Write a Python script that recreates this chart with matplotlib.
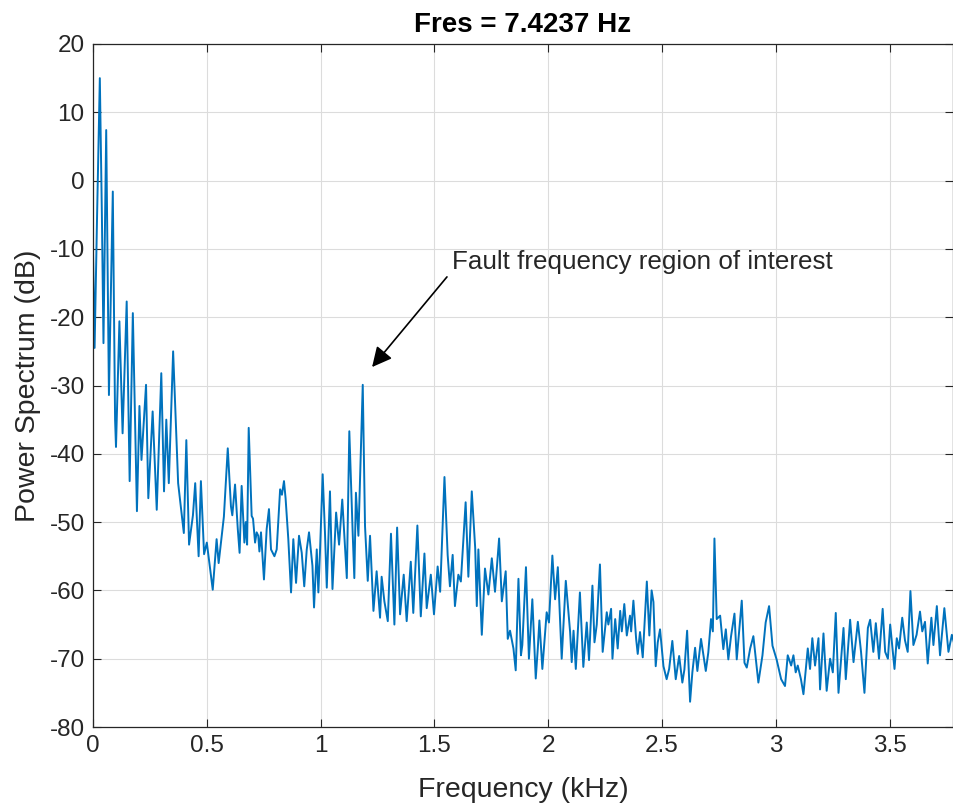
import numpy as np
import matplotlib
matplotlib.use("Agg")
import matplotlib.pyplot as plt
from matplotlib.ticker import FuncFormatter

plt.rcParams['font.family'] = ['Liberation Sans', 'DejaVu Sans']
plt.rcParams['axes.unicode_minus'] = False

# spectrum (kHz, dB)
freq_khz = [
    0.000, 0.007, 0.018, 0.030, 0.039, 0.046, 0.058, 0.070, 0.087, 0.097,
    0.101, 0.116, 0.130, 0.148, 0.161, 0.175, 0.193, 0.204, 0.213, 0.233,
    0.243, 0.262, 0.280, 0.300, 0.312, 0.322, 0.333, 0.352, 0.374, 0.399,
    0.410, 0.422, 0.439, 0.449, 0.464, 0.474, 0.488, 0.500, 0.526, 0.543,
    0.552, 0.575, 0.592, 0.606, 0.612, 0.624, 0.636, 0.644, 0.653, 0.665,
    0.671, 0.677, 0.684, 0.697, 0.703, 0.712, 0.719, 0.726, 0.731, 0.738,
    0.751, 0.763, 0.773, 0.782, 0.797, 0.807, 0.822, 0.830, 0.839, 0.846,
    0.858, 0.870, 0.880, 0.892, 0.905, 0.917, 0.928, 0.939, 0.949, 0.964,
    0.971, 0.983, 0.990, 0.997, 1.009, 1.019, 1.027, 1.041, 1.052, 1.068,
    1.081, 1.095, 1.115, 1.126, 1.141, 1.148, 1.155, 1.166, 1.185, 1.195,
    1.207, 1.217, 1.232, 1.246, 1.261, 1.268, 1.280, 1.295, 1.309, 1.324,
    1.336, 1.349, 1.365, 1.378, 1.396, 1.407, 1.425, 1.440, 1.456, 1.466,
    1.484, 1.498, 1.514, 1.525, 1.544, 1.558, 1.568, 1.580, 1.590, 1.605,
    1.616, 1.637, 1.649, 1.664, 1.679, 1.686, 1.693, 1.708, 1.722, 1.737,
    1.752, 1.766, 1.784, 1.796, 1.813, 1.822, 1.832, 1.847, 1.857, 1.869,
    1.880, 1.886, 1.902, 1.915, 1.930, 1.945, 1.954, 1.961, 1.974, 1.993,
    2.003, 2.018, 2.030, 2.042, 2.059, 2.077, 2.096, 2.103, 2.111, 2.121,
    2.139, 2.154, 2.169, 2.179, 2.194, 2.203, 2.213, 2.227, 2.239, 2.257,
    2.264, 2.276, 2.282, 2.294, 2.305, 2.316, 2.323, 2.334, 2.345, 2.359,
    2.364, 2.374, 2.386, 2.393, 2.403, 2.415, 2.433, 2.444, 2.454, 2.462,
    2.472, 2.481, 2.491, 2.506, 2.520, 2.531, 2.545, 2.560, 2.575, 2.589,
    2.598, 2.610, 2.623, 2.633, 2.645, 2.655, 2.671, 2.692, 2.703, 2.715,
    2.723, 2.730, 2.740, 2.755, 2.769, 2.780, 2.791, 2.803, 2.818, 2.828,
    2.850, 2.862, 2.872, 2.887, 2.901, 2.923, 2.941, 2.955, 2.970, 2.985,
    3.003, 3.023, 3.040, 3.052, 3.067, 3.077, 3.087, 3.096, 3.110, 3.121,
    3.140, 3.150, 3.160, 3.172, 3.187, 3.194, 3.209, 3.223, 3.238, 3.250,
    3.263, 3.275, 3.297, 3.307, 3.326, 3.341, 3.360, 3.374, 3.389, 3.404,
    3.414, 3.428, 3.439, 3.453, 3.469, 3.480, 3.492, 3.502, 3.521, 3.531,
    3.541, 3.555, 3.567, 3.579, 3.591, 3.604, 3.618, 3.633, 3.643, 3.655,
    3.667, 3.683, 3.692, 3.707, 3.721, 3.740, 3.758, 3.773, 3.785,
]
power_db = [
    -10.5, -24.5, -5.0, 15.0, -5.0, -23.8, 7.4, -31.4, -1.6, -35.0,
    -39.0, -20.6, -37.0, -17.7, -44.0, -19.4, -48.4, -33.0, -40.9, -29.9,
    -46.5, -33.8, -48.2, -28.2, -45.5, -35.0, -44.3, -25.0, -44.3, -51.6,
    -38.0, -53.3, -49.0, -44.3, -55.0, -44.0, -54.7, -53.0, -59.9, -52.5,
    -56.0, -49.2, -39.2, -47.7, -49.0, -44.5, -51.0, -54.5, -44.7, -53.0,
    -50.0, -53.3, -36.2, -49.1, -49.5, -53.0, -51.5, -52.0, -54.3, -51.5,
    -58.4, -51.0, -48.1, -54.0, -55.0, -54.0, -45.2, -46.0, -44.0, -46.5,
    -52.5, -60.3, -52.5, -58.9, -52.0, -54.5, -59.4, -54.0, -51.5, -56.4,
    -62.5, -54.0, -60.3, -54.5, -43.0, -51.5, -59.6, -45.5, -59.8, -48.6,
    -53.3, -46.7, -58.2, -36.7, -51.8, -58.2, -45.7, -52.0, -29.9, -50.6,
    -58.6, -52.0, -63.0, -57.2, -64.0, -58.0, -61.6, -64.5, -51.7, -65.0,
    -50.8, -63.5, -57.7, -64.5, -55.8, -63.3, -50.5, -63.8, -54.6, -62.6,
    -57.7, -63.5, -56.5, -60.2, -43.4, -54.8, -59.4, -54.8, -62.3, -57.7,
    -58.7, -47.1, -58.0, -45.5, -53.8, -62.3, -54.0, -66.5, -56.8, -60.6,
    -55.3, -60.2, -52.4, -61.6, -57.2, -67.1, -65.9, -68.5, -71.7, -58.3,
    -69.5, -68.0, -56.6, -70.0, -61.3, -72.9, -68.5, -64.4, -71.5, -63.2,
    -64.7, -54.9, -61.3, -56.6, -70.0, -58.6, -66.1, -70.5, -65.9, -71.5,
    -60.3, -71.2, -64.7, -70.2, -59.3, -67.6, -65.0, -56.2, -69.0, -63.2,
    -65.0, -62.7, -70.0, -64.2, -68.5, -63.0, -66.0, -62.0, -66.6, -63.7,
    -66.0, -61.5, -67.1, -69.3, -66.1, -69.8, -58.7, -66.6, -60.0, -61.7,
    -71.1, -67.6, -65.7, -71.1, -73.0, -71.5, -67.4, -73.0, -69.6, -73.5,
    -71.6, -65.9, -76.3, -72.0, -68.4, -71.8, -67.1, -71.8, -69.1, -64.2,
    -66.0, -52.4, -64.2, -63.7, -68.6, -65.7, -70.1, -66.7, -63.4, -70.1,
    -61.5, -70.6, -71.3, -68.5, -66.7, -73.5, -69.5, -64.7, -62.3, -68.1,
    -70.1, -73.0, -74.0, -69.5, -71.0, -69.5, -72.0, -71.0, -73.0, -75.2,
    -68.5, -71.5, -67.0, -71.0, -67.0, -74.5, -66.3, -74.7, -70.0, -72.0,
    -63.3, -75.0, -65.5, -73.0, -64.3, -70.5, -64.6, -69.0, -75.0, -65.5,
    -64.3, -69.0, -64.8, -70.0, -62.7, -69.0, -70.0, -65.0, -71.5, -67.0,
    -68.5, -64.0, -67.3, -69.0, -60.1, -68.0, -66.5, -63.1, -66.0, -64.6,
    -70.7, -64.0, -68.0, -62.3, -69.5, -62.6, -69.0, -66.5, -68.0,
]

x_ticks = [0, 0.5, 1, 1.5, 2, 2.5, 3, 3.5]
y_ticks = [-80, -70, -60, -50, -40, -30, -20, -10, 0, 10, 20]
title_text = 'Fres = 7.4237 Hz'
note_text = 'Fault frequency region of interest'

txt = '#262626'
fig = plt.figure(figsize=(9.54, 8.07), dpi=100)
ax = fig.add_axes([93/954, 80/807, 860/954, 683/807])

ax.plot(freq_khz, power_db, color='#0072BD', lw=1.4)

ax.set_xlim(0, 3.778)
ax.set_ylim(-80, 20)
ax.set_xticks(x_ticks)
ax.set_yticks(y_ticks)
ax.xaxis.set_major_formatter(FuncFormatter(lambda v, p: f'{v:g}'))
ax.grid(True, color='#dcdcdc', lw=0.8)
ax.set_axisbelow(True)
ax.tick_params(direction='in', length=6, width=0.8, colors=txt,
               labelsize=17.5, top=True, right=True, pad=6)
for s in ax.spines.values():
    s.set_color(txt)
    s.set_linewidth(0.9)

ax.set_xlabel('Frequency (kHz)', fontsize=20.5, color=txt, labelpad=14)
ax.set_ylabel('Power Spectrum (dB)', fontsize=20.5, color=txt, labelpad=6)
ax.set_title(title_text, fontsize=20, fontweight='bold', color='black', pad=9)

# arrow + note
ax.annotate('', xy=(1.226, -27.3), xytext=(1.555, -14.1),
            arrowprops=dict(arrowstyle='-|>,head_length=0.8,head_width=0.4',
                            color='black', lw=1.2, mutation_scale=15,
                            shrinkA=0, shrinkB=0))
ax.text(1.577, -11.9, note_text, fontsize=18.7, color=txt, ha='left', va='center')

fig.savefig('out.png', dpi=100)
